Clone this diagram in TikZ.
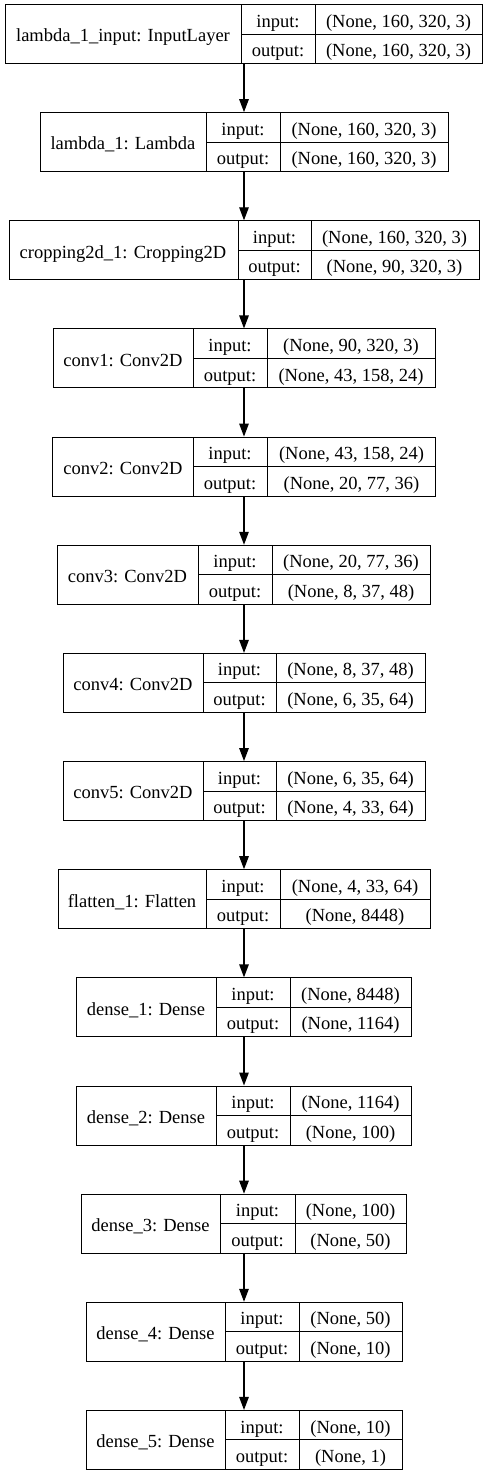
\documentclass[tikz,border=0pt]{standalone}
\usepackage{fontspec}
\setmainfont{Liberation Serif}
\usetikzlibrary{arrows.meta,positioning}

\begin{document}
\begin{tikzpicture}
[x=1pt,y=-1pt,
 every node/.style={inner sep=0pt,font=\fontsize{18.5}{20}\selectfont},
 layer/.style={draw,line width=1pt,minimum height=59pt},
 cell/.style={text height=13pt,text depth=4pt,yshift=-3.3pt},
 flow/.style={-{Triangle[length=13pt,width=9.5pt]},line width=1.3pt}]
\useasboundingbox (0,0) rectangle (488,1475);
%% one box per layer
\foreach \i/\name/\xl/\xa/\xb/\xr/\shin/\shout in {
  0/lambda\_1\_input: InputLayer/5/241/315/482/{(None, 160, 320, 3)}/{(None, 160, 320, 3)},
  1/lambda\_1: Lambda/40/206/280/448/{(None, 160, 320, 3)}/{(None, 160, 320, 3)},
  2/cropping2d\_1: Cropping2D/8/238/311/478/{(None, 160, 320, 3)}/{(None, 90, 320, 3)},
  3/conv1: Conv2D/53/193/267/435/{(None, 90, 320, 3)}/{(None, 43, 158, 24)},
  4/conv2: Conv2D/53/193/267/436/{(None, 43, 158, 24)}/{(None, 20, 77, 36)},
  5/conv3: Conv2D/57/198/272/430/{(None, 20, 77, 36)}/{(None, 8, 37, 48)},
  6/conv4: Conv2D/63/203/276/425/{(None, 8, 37, 48)}/{(None, 6, 35, 64)},
  7/conv5: Conv2D/63/203/276/425/{(None, 6, 35, 64)}/{(None, 4, 33, 64)},
  8/flatten\_1: Flatten/58/206/280/430/{(None, 4, 33, 64)}/{(None, 8448)},
  9/dense\_1: Dense/76/216/290/411/{(None, 8448)}/{(None, 1164)},
  10/dense\_2: Dense/76/216/290/411/{(None, 1164)}/{(None, 100)},
  11/dense\_3: Dense/81/220/295/406/{(None, 100)}/{(None, 50)},
  12/dense\_4: Dense/86/225/299/402/{(None, 50)}/{(None, 10)},
  13/dense\_5: Dense/86/225/299/402/{(None, 10)}/{(None, 1)}}
{
	\pgfmathsetmacro\yt{4.5+108.15*\i}
	\pgfmathsetmacro\yb{\yt+59}
	\pgfmathsetmacro\ym{\yt+29.5}
	\node[layer,minimum width={(\xr-\xl)*1pt}] (L\i) at (244,\ym) {};
	\draw[line width=1pt] (\xa,\yt) -- (\xa,\yb) (\xb,\yt) -- (\xb,\yb) (\xa,\ym) -- (L\i.east |- 0,\ym);
	\node[cell] (N\i) at ({(\xl+\xa)/2},\ym) {\name};
	\node[cell] (I\i) at ({(\xa+\xb)/2},\ym-14.75) {input:};
	\node[cell] (O\i) at ({(\xa+\xb)/2},\ym+14.75) {output:};
	\node[cell] (S\i) at ({(\xb+\xr)/2},\ym-14.75) {\shin};
	\node[cell] (T\i) at ({(\xb+\xr)/2},\ym+14.75) {\shout};
}
%% arrows
\foreach \i [evaluate=\i as \j using int(\i+1)] in {0,...,12}
{
	\draw[flow] (L\i.south) -- (L\j.north);
}
\end{tikzpicture}
\end{document}
